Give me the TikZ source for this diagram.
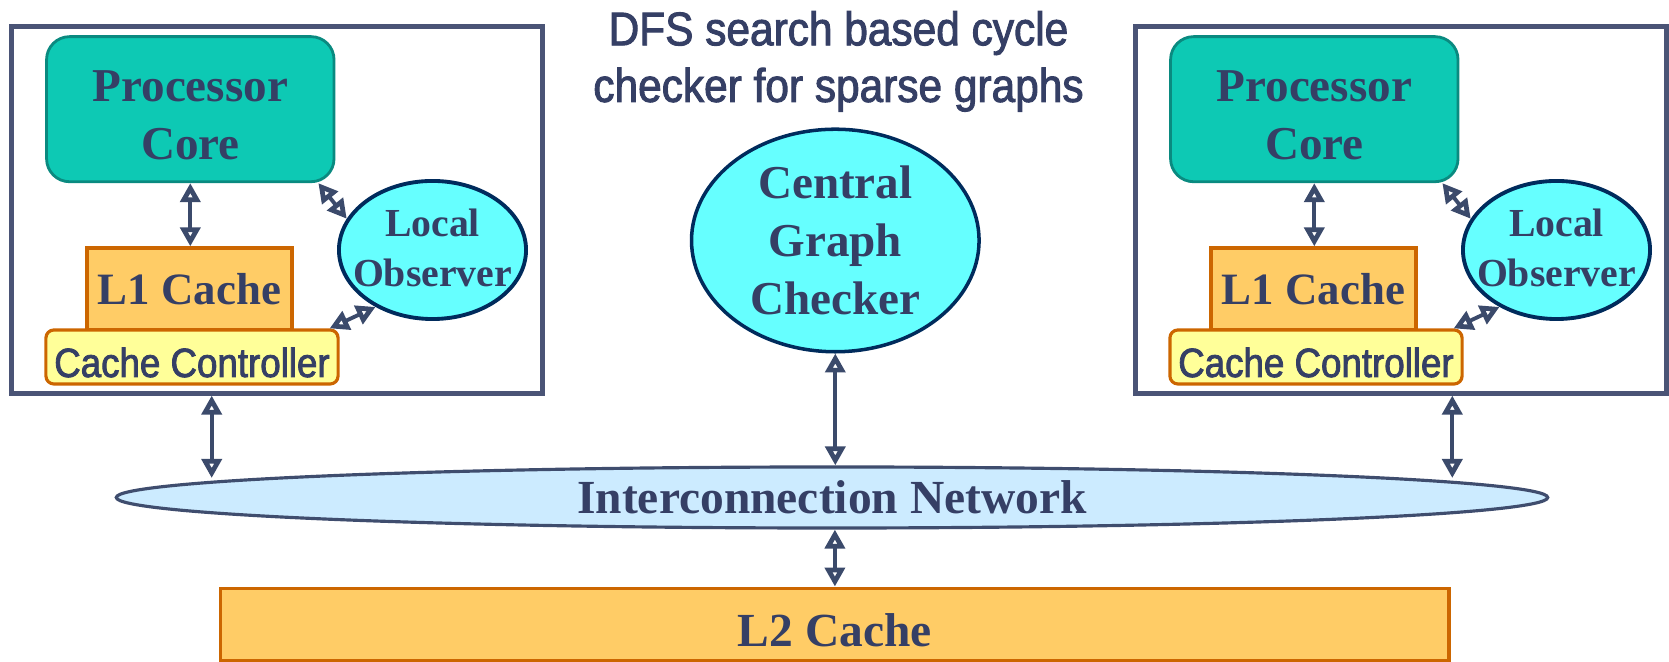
\documentclass[tikz,border=0pt]{standalone}
\usepackage{fontspec}
\setmainfont{Liberation Serif}
\newfontfamily\narrowsans[FakeStretch=0.9,FakeBold=2]{Liberation Sans}
\usetikzlibrary{arrows.meta,shapes.geometric}
\definecolor{framec}{HTML}{4A5476}
\definecolor{textc}{HTML}{353F65}
\definecolor{corefill}{HTML}{0DC9B4}
\definecolor{coreline}{HTML}{0A8A80}
\definecolor{cachefill}{HTML}{FFCC66}
\definecolor{cacheline}{HTML}{CC6600}
\definecolor{ctrlfill}{HTML}{FFFF99}
\definecolor{obsfill}{HTML}{66FFFF}
\definecolor{obsline}{HTML}{002B5C}
\definecolor{netfill}{HTML}{CCEBFF}
\definecolor{netline}{HTML}{3F4D6E}
\definecolor{arrowc}{HTML}{3B4A6B}

\begin{document}
\begin{tikzpicture}[x=.01cm,y=-.01cm,
  every node/.style={text=textc,inner sep=0pt},
  frame/.style={draw=framec,line width=1.4pt,minimum width=5.3cm,minimum height=3.66cm},
  core/.style={draw=coreline,fill=corefill,line width=.8pt,rounded corners=.23cm,minimum width=2.873cm,minimum height=1.45cm},
  coretext/.style={align=center,yshift=-.06cm,font=\bfseries\fontsize{13.4}{16.5}\selectfont},
  lone/.style={draw=cacheline,fill=cachefill,line width=.9pt,minimum width=2.05cm,minimum height=.82cm,font=\bfseries\fontsize{12.75}{15}\selectfont},
  ctrl/.style={draw=cacheline,fill=ctrlfill,line width=.9pt,rounded corners=.08cm,minimum width=2.92cm,minimum height=.54cm,text height=.4cm,text depth=0pt,font=\narrowsans\fontsize{11.6}{13}\selectfont},
  obs/.style={ellipse,draw=obsline,fill=obsfill,line width=1.1pt,minimum width=1.87cm,minimum height=1.38cm},
  obstext/.style={align=center,yshift=.02cm,font=\bfseries\fontsize{11.3}{14.2}\selectfont},
  chk/.style={ellipse,draw=obsline,fill=obsfill,line width=1pt,minimum width=2.874cm,minimum height=2.224cm,align=center,font=\bfseries\fontsize{13.4}{16.5}\selectfont},
  net/.style={ellipse,draw=netline,fill=netfill,line width=.9pt,minimum width=14.306cm,minimum height=.61cm,font=\bfseries\fontsize{13.5}{16}\selectfont},
  ltwo/.style={draw=cacheline,fill=cachefill,line width=1.1pt,minimum width=12.28cm,minimum height=.72cm,text height=.44cm,text depth=0pt,font=\bfseries\fontsize{13.5}{16}\selectfont},
  dbl/.style={draw=arrowc,line width=1.1pt,{Triangle[open,length=5.4pt,width=5.6pt,line width=1.7pt]}-{Triangle[open,length=5.4pt,width=5.6pt,line width=1.7pt]}}]
\useasboundingbox (0,0) rectangle (1669,662);

\node[align=center,font=\narrowsans\fontsize{13.4}{16.1}\selectfont] (title) at (838.5,61.4) {DFS search based cycle\\checker for sparse graphs};

% one processor node per side
\foreach \s/\dx in {L/0,R/1124}{
  \node[frame] (box\s) at (277+\dx,210) {};
  \node[core,label={[coretext]center:Processor\\Core}] (core\s) at (190.3+\dx,109.2) {};
  \node[lone] (lone\s) at (189.5+\dx,289) {L1 Cache};
  \node[ctrl] (ctrl\s) at (192+\dx,357) {Cache Controller};
  \node[obs,label={[obstext]center:Local\\Observer}] (obs\s) at (432.5+\dx,250) {};
  \draw[dbl] (core\s.south) -- (core\s.south |- lone\s.north);
  \draw[dbl] (core\s.-30) -- (obs\s.160);
  \draw[dbl] ([xshift=-.1cm]ctrl\s.north east) -- (obs\s.225);
}

\node[chk] (chk) at (835.3,240.5) {Central\\Graph\\Checker};
\node[net] (net) at (832,497.5) {Interconnection Network};
\node[ltwo] (ltwo) at (834.9,624.5) {L2 Cache};

\coordinate (netL) at (211.7,478);
\coordinate (netR) at (1452.3,478);
\draw[dbl] (boxL.south -| netL) -- (netL);
\draw[dbl] (boxR.south -| netR) -- (netR);
\draw[dbl] (chk.south) -- (chk.south |- net.north);
\draw[dbl] (net.south -| ltwo.north) -- (ltwo.north);
\end{tikzpicture}
\end{document}
